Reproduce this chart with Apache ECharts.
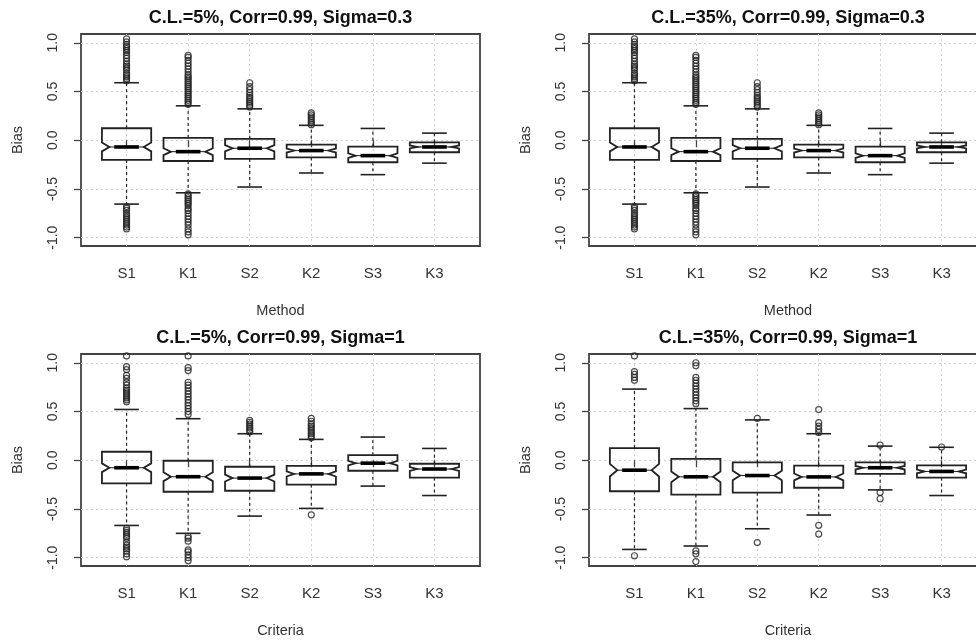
<!DOCTYPE html>
<html><head><meta charset="utf-8">
<script src="https://cdn.jsdelivr.net/npm/echarts@6/dist/echarts.min.js"></script>
<style>html,body{margin:0;padding:0;background:#fff}#c{width:976px;height:641px}</style>
</head><body><div id="c"></div>
<script>
// ---------- data ----------
const categories = ['S1', 'K1', 'S2', 'K2', 'S3', 'K3'];
const categoryPos = [1, 2, 3, 4, 5, 6];
const yTicks = [-1, -0.5, 0, 0.5, 1];
const yTickLabels = ['-1.0', '-0.5', '0.0', '0.5', '1.0'];
const titles = ['C.L.=5%, Corr=0.99, Sigma=0.3', 'C.L.=35%, Corr=0.99, Sigma=0.3',
                'C.L.=5%, Corr=0.99, Sigma=1', 'C.L.=35%, Corr=0.99, Sigma=1'];
const xNames = ['Method', 'Method', 'Criteria', 'Criteria'];
const yName = 'Bias';

// box stats per category: [lower whisker, Q1, median, Q3, upper whisker]
const statsTL = [
  [-0.655, -0.202, -0.069, 0.123, 0.59],
  [-0.539, -0.213, -0.117, 0.024, 0.353],
  [-0.48, -0.192, -0.082, 0.014, 0.322],
  [-0.336, -0.176, -0.106, -0.045, 0.153],
  [-0.353, -0.226, -0.158, -0.065, 0.121],
  [-0.235, -0.123, -0.069, -0.021, 0.073]
];
const notchTL = [0.045, 0.035, 0.032, 0.02, 0.024, 0.015];
const outTL = [
  [0.61, 0.63, 0.65, 0.67, 0.69, 0.72, 0.74, 0.76, 0.78, 0.81, 0.84, 0.87, 0.90, 0.92, 0.94, 0.96, 0.98, 1.01, 1.04,
   -0.68, -0.70, -0.72, -0.75, -0.77, -0.79, -0.81, -0.83, -0.85, -0.87, -0.89, -0.91],
  [0.37, 0.39, 0.41, 0.43, 0.45, 0.47, 0.49, 0.51, 0.53, 0.55, 0.57, 0.59, 0.61, 0.63, 0.65, 0.67, 0.70, 0.73, 0.76, 0.79, 0.82, 0.85, 0.87,
   -0.55, -0.57, -0.59, -0.61, -0.63, -0.65, -0.67, -0.70, -0.72, -0.75, -0.78, -0.81, -0.84, -0.87, -0.91, -0.94, -0.97],
  [0.34, 0.36, 0.38, 0.40, 0.42, 0.44, 0.46, 0.49, 0.52, 0.55, 0.59],
  [0.16, 0.18, 0.20, 0.22, 0.24, 0.26, 0.28],
  [],
  []
];

const statsTR = [
  [-0.655, -0.202, -0.069, 0.123, 0.59],
  [-0.539, -0.213, -0.117, 0.024, 0.353],
  [-0.48, -0.192, -0.082, 0.014, 0.322],
  [-0.336, -0.176, -0.106, -0.045, 0.153],
  [-0.353, -0.226, -0.158, -0.065, 0.121],
  [-0.235, -0.123, -0.069, -0.021, 0.073]
];
const notchTR = [0.045, 0.035, 0.032, 0.02, 0.024, 0.015];
const outTR = [
  [0.61, 0.63, 0.65, 0.67, 0.69, 0.72, 0.74, 0.76, 0.78, 0.81, 0.84, 0.87, 0.90, 0.92, 0.94, 0.96, 0.98, 1.01, 1.04,
   -0.68, -0.70, -0.72, -0.75, -0.77, -0.79, -0.81, -0.83, -0.85, -0.87, -0.89, -0.91],
  [0.37, 0.39, 0.41, 0.43, 0.45, 0.47, 0.49, 0.51, 0.53, 0.55, 0.57, 0.59, 0.61, 0.63, 0.65, 0.67, 0.70, 0.73, 0.76, 0.79, 0.82, 0.85, 0.87,
   -0.55, -0.57, -0.59, -0.61, -0.63, -0.65, -0.67, -0.70, -0.72, -0.75, -0.78, -0.81, -0.84, -0.87, -0.91, -0.94, -0.97],
  [0.34, 0.36, 0.38, 0.40, 0.42, 0.44, 0.46, 0.49, 0.52, 0.55, 0.59],
  [0.16, 0.18, 0.20, 0.22, 0.24, 0.26, 0.28],
  [],
  []
];

const statsBL = [
  [-0.669, -0.238, -0.077, 0.087, 0.521],
  [-0.75, -0.323, -0.169, -0.005, 0.426],
  [-0.573, -0.313, -0.183, -0.067, 0.272],
  [-0.494, -0.25, -0.14, -0.058, 0.214],
  [-0.265, -0.108, -0.03, 0.052, 0.238],
  [-0.362, -0.178, -0.09, -0.036, 0.121]
];
const notchBL = [0.045, 0.045, 0.035, 0.027, 0.023, 0.02];
const outBL = [
  [1.07, 0.96, 0.93, 0.87, 0.84, 0.80, 0.77, 0.74, 0.72, 0.70, 0.68, 0.66, 0.64, 0.62, 0.60,
   -0.70, -0.72, -0.74, -0.76, -0.78, -0.80, -0.84, -0.87, -0.89, -0.91, -0.93, -0.96, -0.99],
  [1.07, 0.95, 0.92, 0.80, 0.77, 0.74, 0.71, 0.68, 0.65, 0.62, 0.59, 0.56, 0.53, 0.50, 0.47,
   -0.78, -0.80, -0.83, -0.92, -0.94, -0.97, -1.00, -1.03],
  [0.29, 0.31, 0.33, 0.35, 0.37, 0.39, 0.41],
  [0.23, 0.25, 0.27, 0.29, 0.31, 0.33, 0.35, 0.37, 0.40, 0.43, -0.56],
  [],
  []
];

const statsBR = [
  [-0.915, -0.318, -0.102, 0.125, 0.73],
  [-0.88, -0.352, -0.17, 0.015, 0.53],
  [-0.703, -0.332, -0.157, -0.022, 0.414],
  [-0.562, -0.282, -0.171, -0.055, 0.272],
  [-0.304, -0.139, -0.077, -0.022, 0.145],
  [-0.362, -0.178, -0.115, -0.053, 0.133]
];
const notchBR = [0.065, 0.055, 0.048, 0.035, 0.018, 0.019];
const outBR = [
  [1.07, 0.91, 0.88, 0.85, 0.82, -0.98],
  [1.0, 0.97, 0.85, 0.82, 0.79, 0.76, 0.73, 0.70, 0.67, 0.64, 0.61, 0.58, -0.93, -0.96, -1.04],
  [0.43, -0.845],
  [0.52, 0.385, 0.35, 0.316, 0.285, -0.668, -0.757],
  [0.156, -0.33, -0.395],
  [0.136]
];

// ---------- layout / style ----------
const FONT = 'Liberation Sans, Arial, sans-serif';
const INK = '#222';
const BOX_WIDTH = 0.8;
const grids = [
  { left: 81, top: 34, width: 399, height: 212 },
  { left: 589, top: 34, width: 398, height: 212 },
  { left: 81, top: 354, width: 399, height: 212 },
  { left: 589, top: 354, width: 398, height: 212 }
];
const panelStats = [statsTL, statsTR, statsBL, statsBR];
const panelNotch = [notchTL, notchTR, notchBL, notchBR];
const panelOut = [outTL, outTR, outBL, outBR];

function renderBox(params, api) {
  const x = api.value(0);
  const wLo = api.value(1), q1 = api.value(2), med = api.value(3), q3 = api.value(4), wHi = api.value(5);
  const nLo = api.value(6), nHi = api.value(7);
  const y = v => api.coord([x, v])[1];
  const xc = api.coord([x, med])[0];
  const hw = api.size([BOX_WIDTH, 0])[0] / 2;
  const f = 0.7;
  const pts = [
    [xc - hw, y(q3)], [xc + hw, y(q3)], [xc + hw, y(nHi)], [xc + hw * f, y(med)], [xc + hw, y(nLo)],
    [xc + hw, y(q1)], [xc - hw, y(q1)], [xc - hw, y(nLo)], [xc - hw * f, y(med)], [xc - hw, y(nHi)]
  ];
  const dash = { stroke: INK, lineWidth: 1.2, lineDash: [3, 3] };
  const solid = { stroke: INK, lineWidth: 1.6 };
  return {
    type: 'group',
    children: [
      { type: 'line', shape: { x1: xc, y1: y(q3), x2: xc, y2: y(wHi) }, style: dash },
      { type: 'line', shape: { x1: xc, y1: y(q1), x2: xc, y2: y(wLo) }, style: dash },
      { type: 'line', shape: { x1: xc - hw * 0.5, y1: y(wHi), x2: xc + hw * 0.5, y2: y(wHi) }, style: solid },
      { type: 'line', shape: { x1: xc - hw * 0.5, y1: y(wLo), x2: xc + hw * 0.5, y2: y(wLo) }, style: solid },
      { type: 'polygon', shape: { points: pts }, style: { fill: 'none', stroke: INK, lineWidth: 1.8 } },
      { type: 'line', shape: { x1: xc - hw * f, y1: y(med), x2: xc + hw * f, y2: y(med) }, style: { stroke: INK, lineWidth: 1 } },
      { type: 'line', shape: { x1: xc - hw * 0.5, y1: y(med), x2: xc + hw * 0.5, y2: y(med) }, style: { stroke: '#000', lineWidth: 3.6 } }
    ]
  };
}

const option = {
  animation: false,
  backgroundColor: '#fff',
  title: grids.map((g, i) => ({
    text: titles[i], left: g.left + g.width / 2, top: i < 2 ? 9 : 329, textAlign: 'center', padding: 0,
    textStyle: { fontFamily: FONT, fontSize: 18, fontWeight: 'bold', color: '#111' }
  })),
  grid: grids.map(g => Object.assign({ show: true, borderColor: '#444', borderWidth: 1.8, outerBoundsMode: 'none', containLabel: false }, g)),
  xAxis: grids.map((g, i) => ({
    type: 'value', gridIndex: i, min: 0.26, max: 6.74,
    name: xNames[i], nameLocation: 'middle', nameGap: 57,
    nameTextStyle: { fontFamily: FONT, fontSize: 14.5, color: '#333' },
    axisLine: { show: false },
    axisTick: { show: true, length: 7, customValues: categoryPos, lineStyle: { color: '#444', width: 1.3 } },
    axisLabel: { customValues: categoryPos, margin: 20, fontFamily: FONT, fontSize: 15, color: '#333',
                 formatter: v => categories[Math.round(v) - 1] },
    splitLine: { show: true, lineStyle: { color: '#d2d2d2', width: 1, type: [2, 3] } }
  })),
  yAxis: grids.map((g, i) => ({
    type: 'value', gridIndex: i, min: -1.085, max: 1.09,
    name: yName, nameLocation: 'middle', nameGap: 56,
    nameTextStyle: { fontFamily: FONT, fontSize: 14.5, color: '#333' },
    axisLine: { show: false },
    axisTick: { show: true, length: 7, customValues: yTicks, lineStyle: { color: '#444', width: 1.3 } },
    axisLabel: { customValues: yTicks, rotate: 90, margin: 21, fontFamily: FONT, fontSize: 14, color: '#333',
                 formatter: v => yTickLabels[yTicks.indexOf(v)] },
    splitLine: { show: true, lineStyle: { color: '#d2d2d2', width: 1, type: [2, 3] } }
  })),
  series: []
};

grids.forEach((g, i) => {
  const stats = panelStats[i], notch = panelNotch[i], outs = panelOut[i];
  option.series.push({
    type: 'custom', xAxisIndex: i, yAxisIndex: i, renderItem: renderBox,
    encode: { x: 0, y: [1, 2, 3, 4, 5] },
    data: stats.map((s, k) => [categoryPos[k], s[0], s[1], s[2], s[3], s[4], s[2] - notch[k], s[2] + notch[k]]),
    z: 3
  });
  const pts = [];
  outs.forEach((list, k) => list.forEach(v => pts.push([categoryPos[k], v])));
  option.series.push({
    type: 'scatter', xAxisIndex: i, yAxisIndex: i, data: pts, symbol: 'circle', symbolSize: 6,
    itemStyle: { color: 'rgba(0,0,0,0)', borderColor: INK, borderWidth: 1.2 },
    clip: true, z: 4
  });
});

const chart = echarts.init(document.getElementById('c'), null, { renderer: 'canvas' });
chart.setOption(option);
</script>
</body></html>
